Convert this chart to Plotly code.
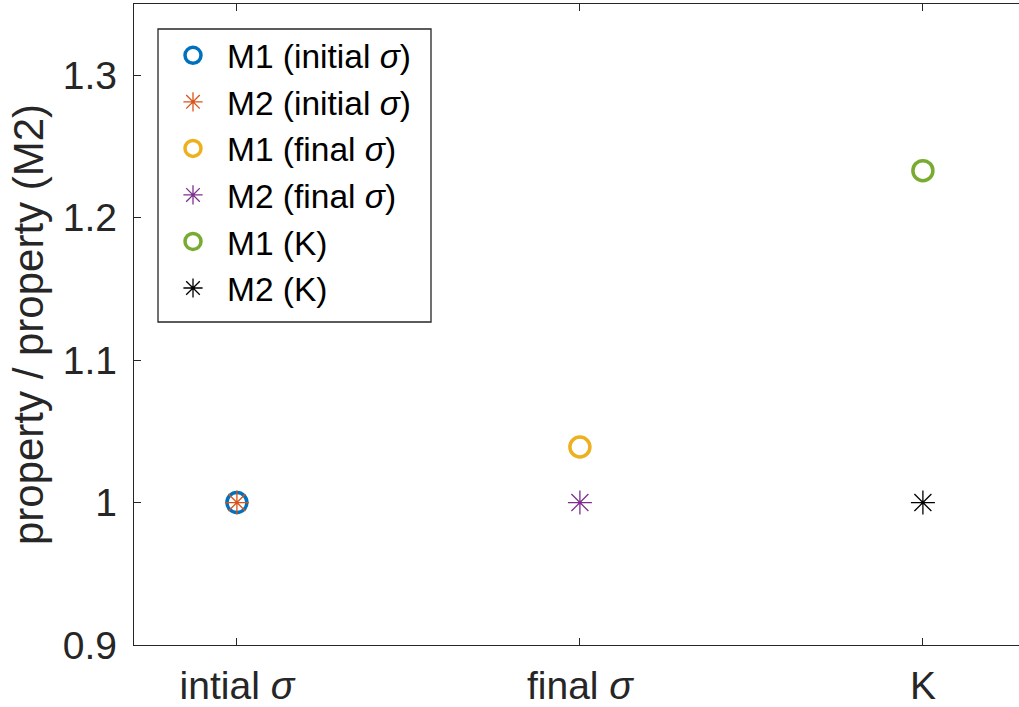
import plotly.graph_objects as go

# Category positions and labels
categories = [1, 2, 3]
tick_labels = ["intial <i>σ</i>", "final <i>σ</i>", "K"]

# Normalised property values (relative to M2)
m1_initial = [1.0]
m2_initial = [1.0]
m1_final = [1.039]
m2_final = [1.0]
m1_k = [1.233]
m2_k = [1.0]

y_ticks = [0.9, 1.0, 1.1, 1.2, 1.3]
y_tick_text = ["0.9", "1", "1.1", "1.2", "1.3"]

series = [
    ("M1 (initial <i>σ</i>)", categories[0], m1_initial, "circle-open", "#0072BD", 3.5),
    ("M2 (initial <i>σ</i>)", categories[0], m2_initial, "asterisk-open", "#D95319", 1.3),
    ("M1 (final <i>σ</i>)", categories[1], m1_final, "circle-open", "#EDB120", 3.5),
    ("M2 (final <i>σ</i>)", categories[1], m2_final, "asterisk-open", "#7E2F8E", 1.3),
    ("M1 (K)", categories[2], m1_k, "circle-open", "#77AC30", 3.5),
    ("M2 (K)", categories[2], m2_k, "asterisk-open", "#000000", 1.3),
]

fig = go.Figure()
for name, xc, vals, sym, col, lw in series:
    fig.add_trace(go.Scatter(
        x=[xc] * len(vals), y=vals, mode="markers", name=name,
        marker=dict(symbol=sym, size=20,
                    color=col, line=dict(color=col, width=lw)),
    ))

ink = "#262626"
plot_w, plot_h = 885, 641  # plot area in pixels (l=134, t=4)

def px_x(p):
    return (p - 134) / plot_w

def px_y(p):
    return 1 - (p - 4) / plot_h

# Legend frame
fig.add_shape(type="rect", xref="paper", yref="paper",
              x0=px_x(158), x1=px_x(431), y0=px_y(322), y1=px_y(29),
              line=dict(color=ink, width=1.3), fillcolor="rgba(0,0,0,0)", layer="above")

fig.update_layout(
    width=1019, height=707,
    margin=dict(l=134, r=0, t=4, b=62),
    paper_bgcolor="white", plot_bgcolor="white",
    font=dict(family="Liberation Sans, Arial, sans-serif", color=ink, size=39),
    showlegend=True,
    legend=dict(
        x=px_x(159), y=px_y(27), xanchor="left", yanchor="top",
        borderwidth=0, bgcolor="rgba(255,255,255,0)",
        font=dict(size=33.5, color="#000000"),
        itemwidth=58,
    ),
    xaxis=dict(
        range=[0.7, 0.7 + plot_w / 343], tickvals=categories, ticktext=tick_labels,
        ticks="inside", ticklen=7, tickcolor=ink, tickwidth=1.3,
        showline=True, linecolor=ink, linewidth=1.3, mirror="ticks",
        showgrid=False, zeroline=False, tickfont=dict(size=39, color=ink),
        ticklabelstandoff=6,
    ),
    yaxis=dict(
        range=[0.9, 1.35], tickvals=y_ticks, ticktext=y_tick_text,
        ticks="inside", ticklen=7, tickcolor=ink, tickwidth=1.3,
        showline=True, linecolor=ink, linewidth=1.3,
        showgrid=False, zeroline=False, tickfont=dict(size=39, color=ink),
        ticklabelstandoff=8,
        title=dict(text="property / property (M2)", font=dict(size=42, color=ink), standoff=6),
    ),
)

fig.write_html("out.html")
